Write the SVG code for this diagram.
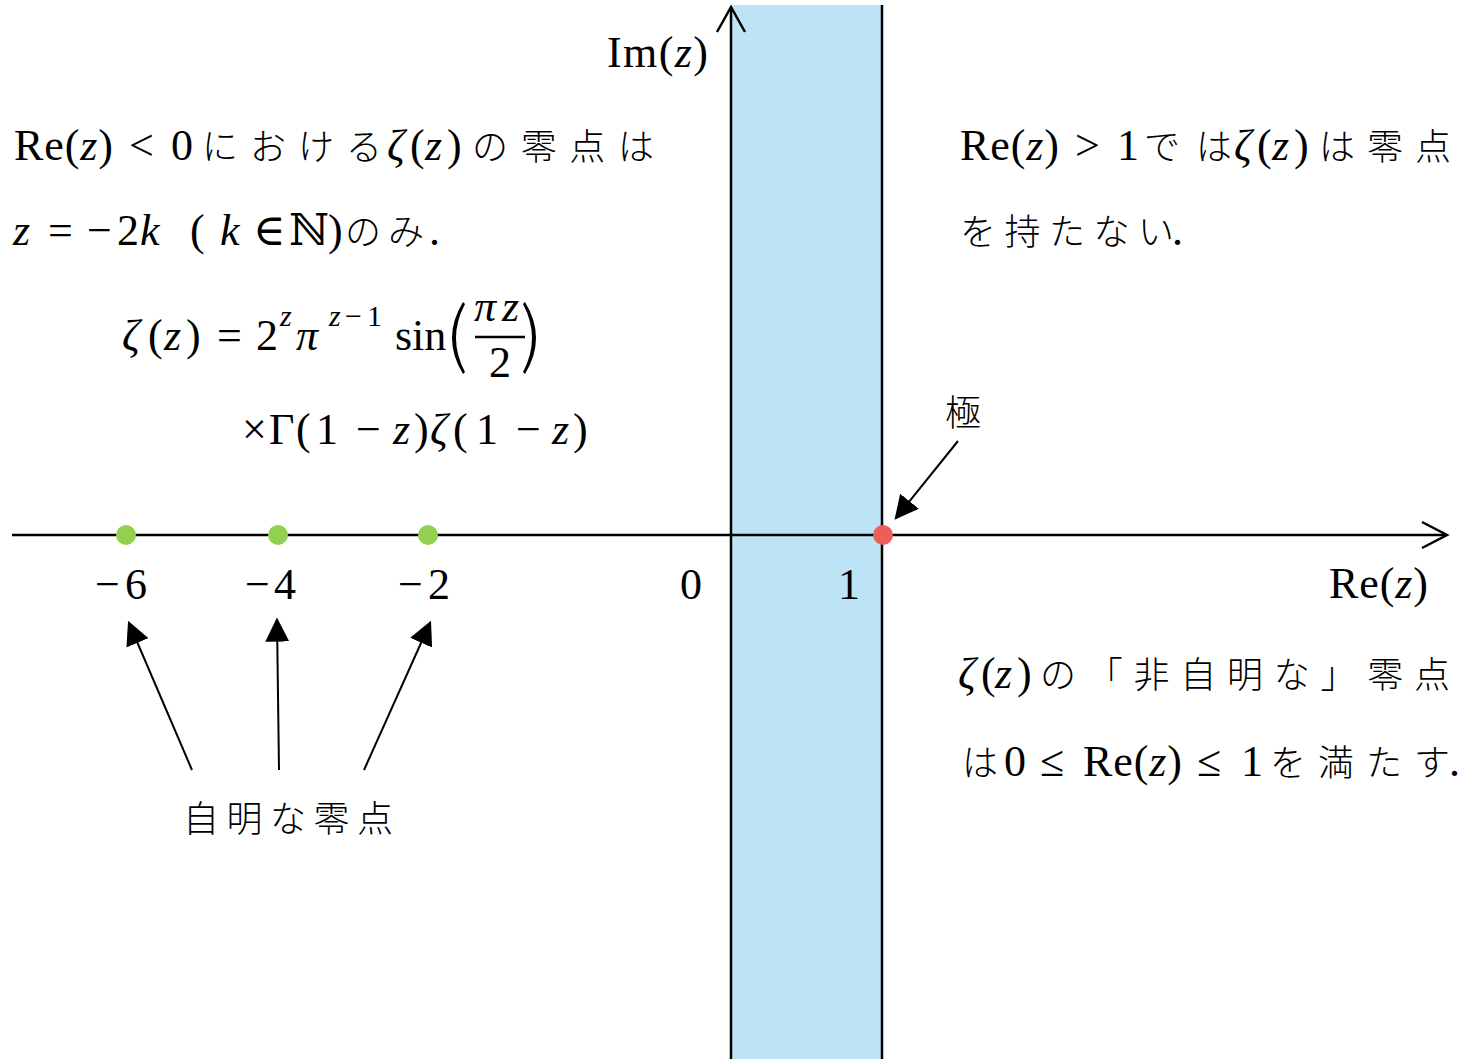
<svg xmlns="http://www.w3.org/2000/svg" width="1466" height="1059" viewBox="0 0 1466 1059">
<style>
.m{font-family:"Liberation Serif","DejaVu Serif",serif;font-size:44px;fill:#000}
.s{font-size:30px}
.i{font-style:italic}
.j{font-family:"Noto Sans CJK JP","Noto Sans",sans-serif;font-size:36px;fill:#000;font-weight:300}
.ax{stroke:#000;stroke-width:2.5;fill:none}
.ar{stroke:#000;stroke-width:2;fill:none}
</style>
<defs>
<marker id="ahL" viewBox="0 0 10 10" refX="9" refY="5" markerWidth="24" markerHeight="24" markerUnits="userSpaceOnUse" orient="auto"><path d="M0,0 L10,5 L0,10 Z" fill="#000"/></marker>
</defs>
<rect width="1466" height="1059" fill="#fff"/>
<g id="strip"><rect x="731" y="5" width="151" height="1054" fill="#BDE3F6"/><line x1="882" y1="5" x2="882" y2="1059" class="ax"/></g>
<g id="axes">
<line x1="12" y1="535" x2="1447" y2="535" class="ax"/>
<polyline points="1422,522 1447,535 1422,548" class="ax"/>
<line x1="731" y1="1059" x2="731" y2="7" class="ax"/>
<polyline points="717,32 731,7 745,32" class="ax"/>
</g>
<g id="points">
<circle cx="126" cy="535" r="10" fill="#92D050"/>
<circle cx="278" cy="535" r="10" fill="#92D050"/>
<circle cx="428" cy="535" r="10" fill="#92D050"/>
<circle cx="883" cy="535" r="10" fill="#EB5E5A"/>
</g>
<g id="connectors">
<line x1="192" y1="770" x2="129" y2="623" class="ar" marker-end="url(#ahL)"/>
<line x1="279" y1="770" x2="277" y2="620" class="ar" marker-end="url(#ahL)"/>
<line x1="364" y1="770" x2="430" y2="623" class="ar" marker-end="url(#ahL)"/>
<line x1="958" y1="441" x2="896" y2="518" class="ar" marker-end="url(#ahL)"/>
</g>
<g id="axis-labels">
<text class="m" x="607" y="67" textLength="101" lengthAdjust="spacing">Im(<tspan class="i">z</tspan>)</text>
<text class="m" x="1329" y="598" textLength="99" lengthAdjust="spacing">Re(<tspan class="i">z</tspan>)</text>
<text class="m" y="599"><tspan x="95">−</tspan><tspan x="125">6</tspan></text>
<text class="m" y="599"><tspan x="245">−</tspan><tspan x="274">4</tspan></text>
<text class="m" y="599"><tspan x="398">−</tspan><tspan x="428">2</tspan></text>
<text class="m" x="680" y="599">0</text>
<text class="m" x="838" y="599">1</text>
</g>
<g id="left-text">
<text class="m" x="14" y="160" textLength="99" lengthAdjust="spacing">Re(<tspan class="i">z</tspan>)</text>
<text class="m" x="129" y="160">&lt;</text>
<text class="m" x="171" y="160">0</text>
<text class="j" x="202" y="160" textLength="180" lengthAdjust="spacing">における</text>
<text class="m" y="160"><tspan class="i" x="387">ζ</tspan><tspan x="410">(</tspan><tspan class="i" x="425">z</tspan><tspan x="447">)</tspan></text>
<text class="j" x="472" y="160" textLength="182" lengthAdjust="spacing">の零点は</text>
<text class="m" y="245"><tspan class="i" x="13">z</tspan><tspan x="48">=</tspan><tspan x="87">−</tspan><tspan x="117">2</tspan><tspan class="i" x="140">k</tspan><tspan x="190">(</tspan><tspan class="i" x="220">k</tspan><tspan x="253">∈</tspan><tspan x="289">ℕ</tspan><tspan x="328">)</tspan></text>
<text class="j" y="245"><tspan x="345">の</tspan><tspan x="388">み</tspan></text>
<text class="m" x="429" y="245">.</text>
</g>
<g id="formula">
<text class="m" y="350"><tspan class="i" x="122">ζ</tspan><tspan x="148">(</tspan><tspan class="i" x="164">z</tspan><tspan x="186">)</tspan><tspan x="217">=</tspan><tspan x="256">2</tspan><tspan class="i" x="296">π</tspan><tspan x="395">sin</tspan></text>
<text class="m s" y="326"><tspan class="i" x="280">z</tspan><tspan class="i" x="329">z</tspan><tspan x="345">−</tspan><tspan x="367">1</tspan></text>
<path d="M463,302 Q441,338 463,374 L465,372 Q447,338 465,304 Z" fill="#000"/>
<text class="m i" y="321"><tspan x="474">π</tspan><tspan x="502">z</tspan></text>
<line x1="475" y1="337" x2="525" y2="337" stroke="#000" stroke-width="2.5"/>
<text class="m" x="489" y="377">2</text>
<path d="M525,302 Q547,338 525,374 L523,372 Q541,338 523,304 Z" fill="#000"/>
<text class="m" y="444"><tspan x="242">×</tspan><tspan x="269">Γ</tspan><tspan x="296">(</tspan><tspan x="316">1</tspan><tspan x="356">−</tspan><tspan class="i" x="393">z</tspan><tspan x="414">)</tspan><tspan class="i" x="430">ζ</tspan><tspan x="453">(</tspan><tspan x="476">1</tspan><tspan x="516">−</tspan><tspan class="i" x="552">z</tspan><tspan x="573">)</tspan></text>
</g>
<g id="right-text">
<text class="m" x="960" y="160" textLength="99" lengthAdjust="spacing">Re(<tspan class="i">z</tspan>)</text>
<text class="m" x="1075" y="160">&gt;</text>
<text class="m" x="1117" y="160">1</text>
<text class="j" x="1144" y="160" textLength="88" lengthAdjust="spacing">では</text>
<text class="m" y="160"><tspan class="i" x="1234">ζ</tspan><tspan x="1257">(</tspan><tspan class="i" x="1272">z</tspan><tspan x="1294">)</tspan></text>
<text class="j" x="1319" y="160" textLength="132" lengthAdjust="spacing">は零点</text>
<text class="j" x="960" y="245" textLength="214" lengthAdjust="spacing">を持たない</text>
<text class="m" x="1172" y="245">.</text>
</g>
<g id="pole-label"><text class="j" x="945" y="426">極</text></g>
<g id="trivial-label"><text class="j" x="183" y="832" textLength="210" lengthAdjust="spacing">自明な零点</text></g>
<g id="nontrivial-text">
<text class="m" y="688"><tspan class="i" x="958">ζ</tspan><tspan x="981">(</tspan><tspan class="i" x="995">z</tspan><tspan x="1017">)</tspan></text>
<text class="j" x="1040" y="688" textLength="410" lengthAdjust="spacing">の「非自明な」零点</text>
<text class="j" x="962" y="776">は</text>
<text class="m" x="1004" y="776">0</text>
<text class="m" x="1040" y="776">≤</text>
<text class="m" x="1083" y="776" textLength="99" lengthAdjust="spacing">Re(<tspan class="i">z</tspan>)</text>
<text class="m" x="1197" y="776">≤</text>
<text class="m" x="1241" y="776">1</text>
<text class="j" x="1270" y="776" textLength="180" lengthAdjust="spacing">を満たす</text>
<text class="m" x="1449" y="776">.</text>
</g>
</svg>
